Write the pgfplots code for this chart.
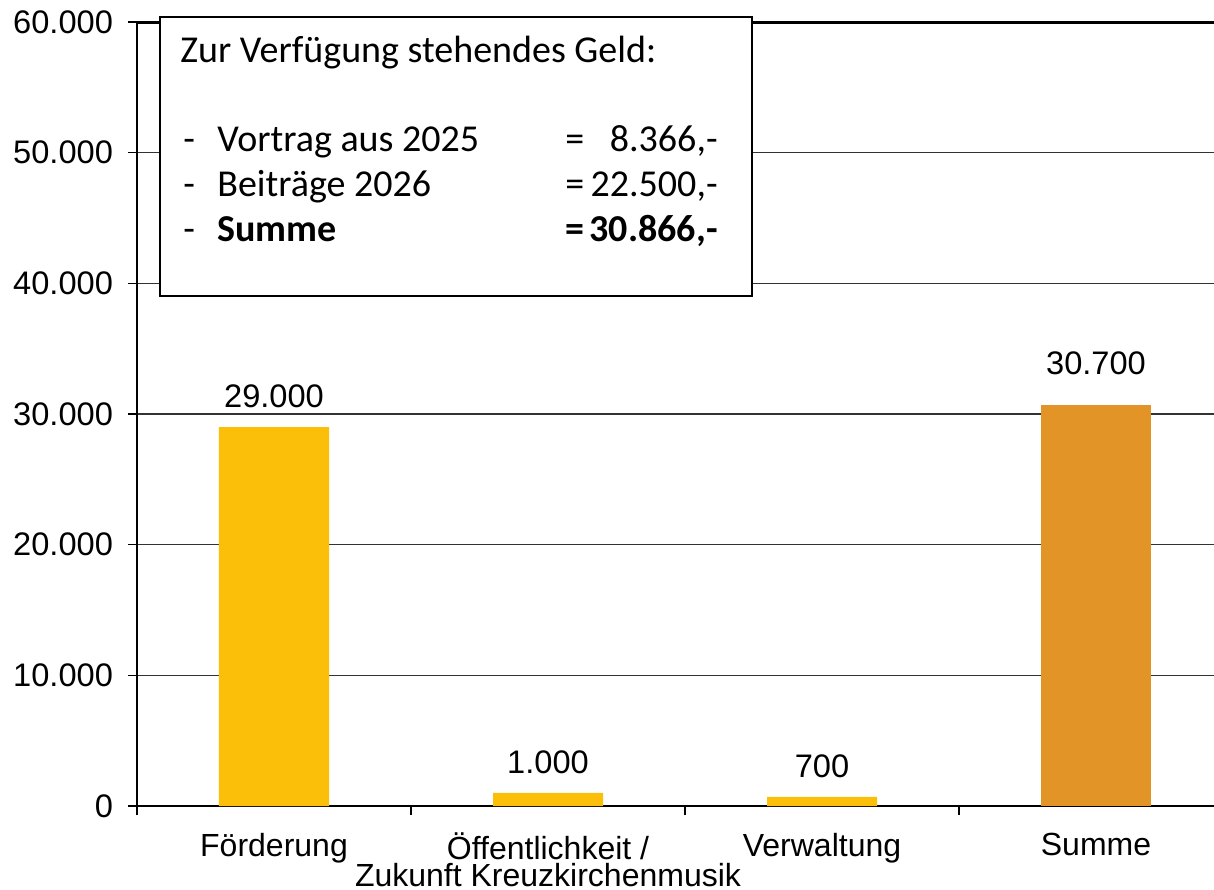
\documentclass[border=0pt]{standalone}
\usepackage{fontspec}
\setmainfont{Liberation Sans}
\newfontfamily\calibri{Carlito}
\usepackage{pgfplots}
\pgfplotsset{compat=1.18}
\definecolor{barY}{HTML}{FBBE09}
\definecolor{barO}{HTML}{E29526}
\begin{document}
\begin{tikzpicture}[font=\fontsize{16.3}{13.5}\selectfont]
\begin{axis}[
  scale only axis, width=548pt, height=392pt,
  xmin=-0.5, xmax=3.5, ymin=0, ymax=60000,
  axis line style={line width=1pt},
  xtick={-0.5,0.5,1.5,2.5,3.5},
  x tick label as interval,
  xticklabels={Förderung,{Öffentlichkeit /\\Zukunft Kreuzkirchenmusik},Verwaltung,Summe},
  xticklabel style={align=center, yshift=-5.5pt, font=\fontsize{16}{13.5}\selectfont},
  ytick={0,10000,20000,30000,40000,50000,60000},
  xtick pos=bottom, ytick pos=left,
  tick align=outside, major tick length=4.5pt,
  tick style={black, line width=0.8pt},
  ymajorgrids, grid style={line width=0.6pt, black!80},
  scaled y ticks=false,
  /pgf/number format/.cd, 1000 sep={.}, assume math mode=true,
  /pgfplots/.cd,
  yticklabel style={xshift=-4pt, font=\fontsize{16.3}{18}\selectfont},
  ybar, bar width=55pt,
  nodes near coords,
  nodes near coords style={font=\fontsize{16.3}{18}\selectfont, black},
]
\addplot[fill=barY, draw=none, bar shift=0pt, nodes near coords style={yshift=6pt}]
  coordinates {(0,29000) (1,1000) (2,700)};
\addplot[fill=barO, draw=none, bar shift=0pt, nodes near coords style={yshift=11.5pt}]
  coordinates {(3,30700)};
\draw[line width=1.5pt] (rel axis cs:0,1) -- (rel axis cs:1,1);
\end{axis}
\draw[line width=0.9pt, fill=white] (11.5pt,255pt) rectangle (307.5pt,394.5pt);
\begin{scope}[every node/.style={inner sep=0pt, font=\calibri\fontsize{19}{22}\selectfont}]
\node[anchor=base west] at (21.5pt,371.5pt) {Zur Verfügung stehendes Geld:};
\node[anchor=base west] at (23pt,327pt) {-};
\node[anchor=base west] at (40pt,327pt) {Vortrag aus 2025};
\node[anchor=base west] at (214pt,327pt) {=};
\node[anchor=base east] at (290.5pt,327pt) {8.366,-};
\node[anchor=base west] at (23pt,304.5pt) {-};
\node[anchor=base west] at (40pt,304.5pt) {Beiträge 2026};
\node[anchor=base west] at (214pt,304.5pt) {=};
\node[anchor=base east] at (290.5pt,304.5pt) {22.500,-};
\node[anchor=base west] at (23pt,282pt) {-};
\node[anchor=base west] at (40pt,282pt) {\bfseries Summe};
\node[anchor=base west] at (214pt,282pt) {\bfseries =};
\node[anchor=base east] at (290.5pt,282pt) {\bfseries 30.866,-};
\end{scope}
\pgfresetboundingbox
\useasboundingbox (-68.5pt,-41.5pt) rectangle (538.5pt,403pt);
\end{tikzpicture}
\end{document}
